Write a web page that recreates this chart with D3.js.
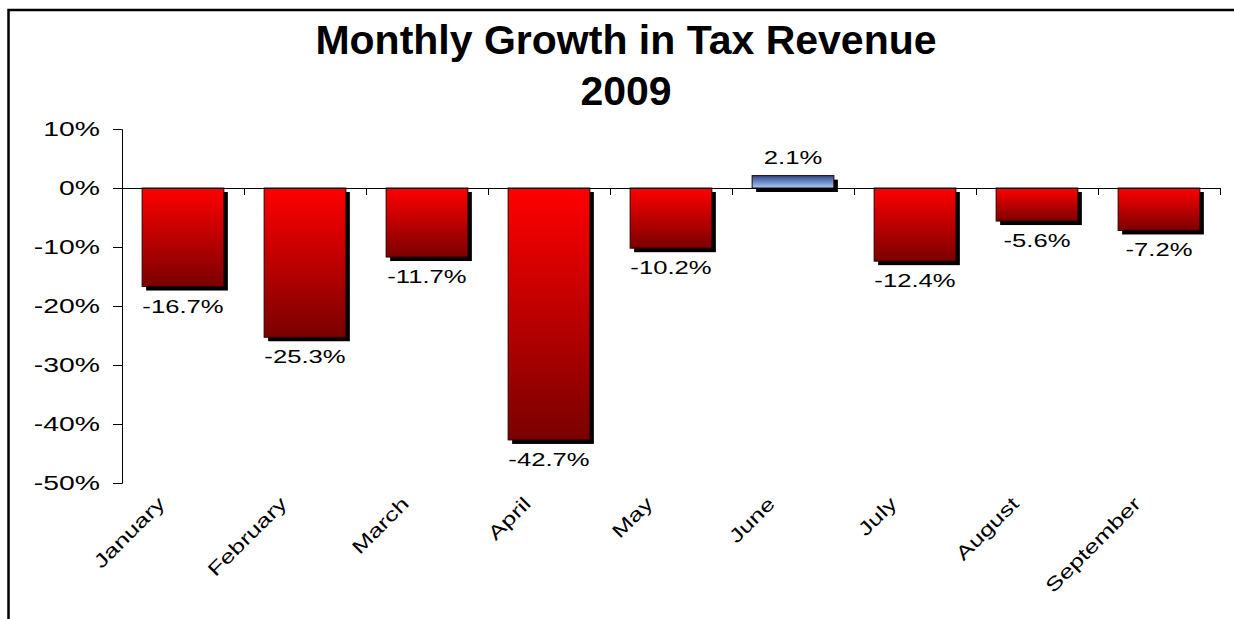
<!DOCTYPE html>
<html>
<head>
<meta charset="utf-8">
<script src="https://cdn.jsdelivr.net/npm/d3@7"></script>
<style>
  html, body { margin: 0; padding: 0; background: #fff; overflow: hidden; }
  svg { display: block; overflow: hidden; font-family: "Liberation Sans", Arial, sans-serif; }
</style>
</head>
<body>
<svg id="chart" width="1234" height="619"></svg>
<script>
// Monthly growth of tax revenue, 2009 (percent change)
const months = ["January", "February", "March", "April", "May", "June", "July", "August", "September"];
const growth = [-16.7, -25.3, -11.7, -42.7, -10.2, 2.1, -12.4, -5.6, -7.2];
const yTicks = [10, 0, -10, -20, -30, -40, -50];
const titleLines = ["Monthly Growth in Tax Revenue", "2009"];

const W = 1234, H = 619;
const plot = { left: 122, right: 1220, top: 129, bottom: 483 };
const stretch = 1.35;          // wide lettering of the labels
const shadow = 4;              // drop-shadow offset of the bars

const svg = d3.select("#chart");

// gradients
const defs = svg.append("defs");
const red = defs.append("linearGradient").attr("id", "gRed")
  .attr("x1", 0).attr("y1", 0).attr("x2", 0).attr("y2", 1);
red.append("stop").attr("offset", "0%").attr("stop-color", "#ff0000");
red.append("stop").attr("offset", "100%").attr("stop-color", "#7a0000");
const blue = defs.append("linearGradient").attr("id", "gBlue")
  .attr("x1", 0).attr("y1", 0).attr("x2", 0).attr("y2", 1);
blue.append("stop").attr("offset", "0%").attr("stop-color", "#2f4589");
blue.append("stop").attr("offset", "100%").attr("stop-color", "#a9cff8");

// outer frame (top and left edges fall inside the page)
svg.append("path")
  .attr("d", `M8.5,${H} V10 H${W}`)
  .attr("fill", "none").attr("stroke", "#000").attr("stroke-width", 2.5);

// title
svg.append("g").selectAll("text").data(titleLines).join("text")
  .attr("x", 626)
  .attr("y", (d, i) => 54 + i * 51)
  .attr("text-anchor", "middle")
  .attr("font-weight", "bold")
  .attr("font-size", 41)
  .attr("fill", "#000")
  .text(d => d);

// scales
const x = d3.scaleBand().domain(months).range([plot.left, plot.right])
  .paddingInner(0.33).paddingOuter(0.165);
const y = d3.scaleLinear().domain([-50, 10]).range([plot.bottom, plot.top]);

// y axis
const yAxis = svg.append("g")
  .attr("transform", `translate(${plot.left},0)`)
  .call(d3.axisLeft(y).tickValues(yTicks).tickSize(9).tickPadding(0)
    .tickFormat(d => d + "%"));
yAxis.select(".domain").attr("stroke", "#000");
yAxis.selectAll(".tick line").attr("stroke", "#000");
yAxis.selectAll(".tick text")
  .attr("x", null)
  .attr("transform", `translate(-22,0) scale(${stretch},1)`)
  .attr("font-size", 21)
  .attr("font-family", "Liberation Sans, Arial, sans-serif")
  .attr("fill", "#000");

// bars: shadow first, then the gradient bar
const bars = svg.append("g");
bars.selectAll("rect.shadow").data(months).join("rect")
  .attr("class", "shadow")
  .attr("x", d => x(d) + shadow)
  .attr("y", (d, i) => Math.min(y(growth[i]), y(0)) + shadow)
  .attr("width", x.bandwidth())
  .attr("height", (d, i) => Math.abs(y(growth[i]) - y(0)))
  .attr("fill", "#000");
bars.selectAll("rect.bar").data(months).join("rect")
  .attr("class", "bar")
  .attr("x", d => x(d))
  .attr("y", (d, i) => Math.min(y(growth[i]), y(0)))
  .attr("width", x.bandwidth())
  .attr("height", (d, i) => Math.abs(y(growth[i]) - y(0)))
  .attr("fill", (d, i) => growth[i] >= 0 ? "url(#gBlue)" : "url(#gRed)")
  .attr("stroke", "#2a0000")
  .attr("stroke-width", 1);

// x axis line and category ticks
const xAxis = svg.append("g");
xAxis.append("line")
  .attr("x1", plot.left).attr("x2", plot.right)
  .attr("y1", y(0) + 0.5).attr("y2", y(0) + 0.5)
  .attr("stroke", "#000");
const bounds = d3.range(1, months.length + 1).map(i => plot.left + i * x.step());
xAxis.selectAll("line.tick").data(bounds).join("line")
  .attr("class", "tick")
  .attr("x1", d => Math.round(d) + 0.5).attr("x2", d => Math.round(d) + 0.5)
  .attr("y1", y(0)).attr("y2", y(0) + 7)
  .attr("stroke", "#000");

// value labels
svg.append("g").selectAll("text").data(months).join("text")
  .attr("transform", (d, i) => {
    const cx = x(d) + x.bandwidth() / 2;
    const cy = growth[i] >= 0 ? y(growth[i]) - 12 : y(growth[i]) + 26;
    return `translate(${cx},${cy}) scale(${stretch},1)`;
  })
  .attr("text-anchor", "middle")
  .attr("font-size", 19)
  .attr("fill", "#000")
  .text((d, i) => growth[i].toFixed(1) + "%");

// rotated category labels
svg.append("g").selectAll("text").data(months).join("text")
  .attr("transform", d => {
    const cx = x(d) + x.bandwidth() / 2 - 17;
    return `translate(${cx},505) rotate(-45) scale(${stretch},1)`;
  })
  .attr("text-anchor", "end")
  .attr("font-size", 19)
  .attr("fill", "#000")
  .text(d => d);
</script>
</body>
</html>
